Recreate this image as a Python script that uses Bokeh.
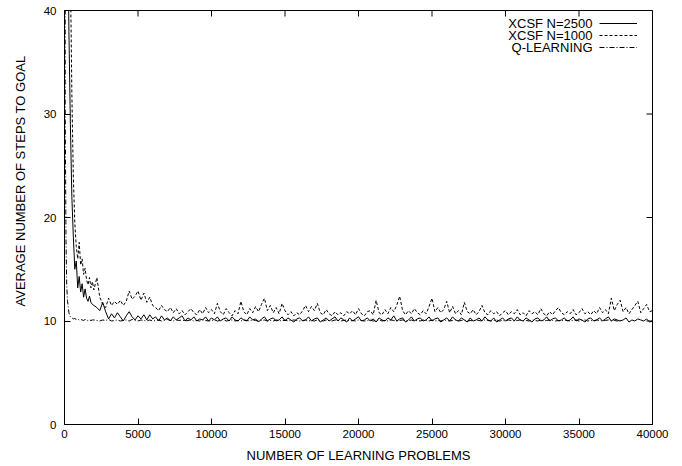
import math
from bokeh.plotting import figure
from bokeh.models import Range1d, FixedTicker, Label, Legend, LegendItem, Title
from bokeh.embed import file_html
from bokeh.resources import INLINE

# ---------------- data ----------------
X_MIN, X_MAX = 0, 40000
Y_MIN, Y_MAX = 0, 40
X_TICKS = [0, 5000, 10000, 15000, 20000, 25000, 30000, 35000, 40000]
Y_TICKS = [0, 10, 20, 30, 40]

X_XCSF = list(range(0, 2000, 100)) + list(range(2000, 40001, 200))
X_Q = [0, 50, 100, 150, 200] + list(range(300, 2000, 100)) + list(range(2000, 40001, 200))

Y_N2500 = [
    120, 80, 52, 38, 29, 22, 18.2, 15.0, 15.8, 13.2,
    14.3, 12.8, 13.6, 12.3, 13.1, 12.2, 11.9, 12.4, 11.8, 11.6,
    11.5, 11.3, 11.0, 11.8, 10.9, 10.2, 10.7, 10.3, 10.8, 10.4,
    10.0, 10.5, 10.9, 10.4, 10.1, 10.5, 10.2, 10.6, 10.1, 10.6,
    10.2, 10.4, 10.0, 10.5, 10.1, 10.3, 10.0, 10.4, 10.1, 10.3,
    10.5, 10.0, 10.3, 10.1, 10.4, 10.0, 10.2, 10.1, 10.4, 10.0,
    10.3, 10.1, 10.4, 10.0, 10.2, 10.3, 10.0, 10.4, 10.1, 10.0,
    10.3, 10.1, 10.0, 10.4, 10.1, 10.2, 9.9, 10.2, 10.4, 10.0,
    10.2, 10.3, 10.0, 10.1, 10.4, 10.0, 10.3, 10.1, 9.9, 10.2,
    10.3, 10.0, 10.1, 10.4, 10.0, 10.2, 10.3, 9.9, 10.1, 10.3,
    10.0, 10.2, 10.4, 10.0, 10.3, 10.1, 9.9, 10.3, 10.0, 10.2,
    10.4, 10.0, 10.1, 10.3, 10.0, 10.2, 9.9, 10.3, 10.1, 10.0,
    10.3, 10.1, 10.5, 10.0, 10.2, 10.3, 9.9, 10.1, 10.4, 10.0,
    10.2, 10.3, 10.0, 10.1, 10.4, 10.0, 10.2, 10.3, 9.9, 10.1,
    10.3, 10.0, 10.4, 10.1, 10.0, 10.3, 10.1, 9.9, 10.3, 10.0,
    10.1, 10.3, 10.0, 10.4, 10.1, 10.0, 10.3, 9.9, 10.1, 10.3,
    10.0, 10.2, 10.3, 10.0, 10.4, 10.1, 10.0, 10.3, 10.1, 9.9,
    10.2, 10.3, 10.0, 10.1, 10.4, 10.0, 10.2, 10.3, 10.0, 10.1,
    10.3, 10.0, 10.1, 10.4, 10.0, 10.2, 10.1, 9.9, 10.2, 10.3,
    10.0, 10.1, 10.3, 10.0, 10.2, 10.4, 10.0, 10.2, 10.1, 10.0,
    10.1, 10.3, 9.9, 10.1, 10.0, 10.2, 10.1, 10.0, 10.2, 9.9,
    10.0,
]

Y_N1000 = [
    200, 130, 85, 60, 44, 32, 24, 19.5, 17.2, 16.0,
    17.6, 15.4, 16.0, 14.5, 15.1, 14.0, 13.5, 14.2, 13.2, 13.8,
    13.0, 14.2, 12.3, 11.6, 11.3, 12.2, 11.5, 11.9, 11.6, 12.0,
    11.5, 11.9, 12.9, 12.1, 12.4, 12.9, 12.0, 12.7, 11.8, 12.3,
    11.5, 11.3, 11.0, 11.5, 11.1, 10.9, 11.3, 10.8, 11.2, 10.7,
    11.0, 10.6, 10.9, 11.2, 10.8, 10.6, 11.1, 10.7, 11.3, 10.8,
    11.1, 10.7, 11.7, 10.9, 10.6, 11.2, 10.8, 10.5, 11.0, 10.7,
    11.9, 10.9, 10.6, 11.2, 10.8, 11.4, 10.9, 11.6, 12.2, 11.0,
    11.5, 10.8, 11.3, 10.7, 11.7, 11.0, 10.6, 10.9, 10.5, 10.8,
    10.6, 11.0, 11.5, 10.9, 11.4, 11.0, 11.7, 10.8, 10.6, 11.1,
    10.7, 10.5, 10.9, 10.6, 10.8, 10.5, 10.9, 10.7, 11.0, 10.6,
    11.2, 10.7, 10.5, 10.9, 11.0, 10.6, 12.0, 10.8, 10.6, 11.1,
    10.7, 11.3, 10.9, 11.5, 12.4, 11.0, 10.6, 11.0, 10.7, 11.2,
    10.8, 10.6, 11.0, 10.7, 11.4, 12.2, 10.9, 11.3, 10.8, 11.1,
    11.9, 10.8, 11.4, 10.7, 11.0, 10.6, 11.8, 10.9, 10.7, 11.1,
    10.6, 10.9, 11.5, 10.8, 10.6, 11.0, 10.7, 10.9, 10.5, 10.8,
    11.0, 10.6, 10.9, 10.7, 11.1, 10.6, 10.8, 10.5, 11.0, 10.7,
    10.9, 10.6, 11.2, 10.7, 10.5, 10.9, 10.6, 11.0, 11.3, 10.8,
    10.6, 10.9, 10.7, 11.1, 10.6, 10.8, 11.2, 10.7, 10.9, 10.6,
    11.0, 10.7, 11.3, 10.8, 11.1, 10.7, 12.2, 11.0, 11.6, 12.0,
    10.9, 11.3, 10.7, 11.1, 11.5, 11.9, 10.8, 11.2, 11.6, 10.9,
    11.0,
]

Y_Q = [
    300, 30, 18, 13.5, 12.0,
    10.8, 10.4, 10.3, 10.2, 10.25, 10.15, 10.2, 10.1, 10.15, 10.1,
    10.05, 10.15, 10.1, 10.0, 10.1, 10.05, 10.1,
    10.1, 10.05, 10.0, 10.1, 10.05, 10.15, 10.0, 10.05, 10.1, 10.0,
    10.05, 10.1, 10.0, 10.15, 10.05, 10.0, 10.1, 10.05, 10.0, 10.1,
    10.0, 10.05, 10.1, 10.0, 10.05, 10.15, 10.05, 10.0, 10.1, 10.05,
    10.1, 10.0, 10.05, 10.1, 10.0, 10.05, 10.0, 10.1, 10.05, 10.0,
    10.05, 10.1, 10.0, 10.05, 10.15, 10.0, 10.05, 10.1, 10.0, 10.05,
    10.0, 10.1, 10.05, 10.0, 10.1, 10.05, 10.0, 10.05, 10.1, 10.0,
    10.05, 10.0, 10.1, 10.05, 10.0, 10.1, 10.0, 10.05, 10.1, 10.05,
    10.0, 10.05, 10.1, 10.0, 10.05, 10.0, 10.1, 10.05, 10.0, 10.1,
    10.05, 10.0, 10.1, 10.05, 10.0, 10.05, 10.1, 10.0, 10.05, 10.0,
    10.1, 10.05, 10.0, 10.05, 10.1, 10.0, 10.05, 10.1, 10.0, 10.05,
    10.0, 10.1, 10.05, 10.0, 10.05, 10.1, 10.05, 10.0, 10.1, 10.0,
    10.05, 10.0, 10.1, 10.05, 10.0, 10.1, 10.0, 10.05, 10.0, 10.1,
    10.05, 10.0, 10.05, 10.1, 10.0, 10.05, 10.1, 10.0, 10.05, 10.0,
    10.1, 10.05, 10.0, 10.1, 10.05, 10.0, 10.05, 10.1, 10.0, 10.05,
    10.0, 10.1, 10.05, 10.0, 10.05, 10.1, 10.0, 10.05, 10.0, 10.1,
    10.05, 10.0, 10.1, 10.0, 10.05, 10.1, 10.05, 10.0, 10.05, 10.0,
    10.1, 10.05, 10.0, 10.05, 10.1, 10.0, 10.05, 10.1, 10.0, 10.05,
    10.0, 10.1, 10.05, 10.0, 10.05, 10.1, 10.0, 10.05, 10.0, 10.05,
    10.05,
]

SERIES_LABELS = ["XCSF N=2500", "XCSF N=1000", "Q-LEARNING"]
X_LABEL = "NUMBER OF LEARNING PROBLEMS"
Y_LABEL = "AVERAGE NUMBER OF STEPS TO GOAL"

FONT = "Liberation Sans"

# ---------------- figure ----------------
p = figure(width=682, height=466, output_backend="svg", toolbar_location=None,
           x_range=Range1d(X_MIN, X_MAX), y_range=Range1d(Y_MIN, Y_MAX),
           min_border_left=64, min_border_right=30, min_border_top=10,
           min_border_bottom=42)
p.xgrid.visible = False
p.ygrid.visible = False
p.outline_line_color = "black"
p.outline_line_width = 1
p.outline_line_alpha = 1
p.background_fill_color = "white"
p.border_fill_color = "white"


def style_axis(ax, ticks, standoff):
    ax.ticker = FixedTicker(ticks=ticks)
    ax.major_tick_in = 6
    ax.major_tick_out = 0
    ax.minor_tick_in = 0
    ax.minor_tick_out = 0
    ax.axis_line_color = "black"
    ax.major_tick_line_color = "black"
    ax.major_label_text_font = FONT
    ax.major_label_text_color = "black"
    ax.major_label_text_font_size = "11.5px"
    ax.major_label_standoff = standoff


style_axis(p.xaxis[0], X_TICKS, 5)
style_axis(p.yaxis[0], Y_TICKS, 8)

p.xaxis[0].axis_label = X_LABEL
p.xaxis[0].axis_label_text_font = FONT
p.xaxis[0].axis_label_text_font_size = "13px"
p.xaxis[0].axis_label_text_font_style = "normal"
p.xaxis[0].axis_label_text_color = "black"
p.xaxis[0].axis_label_standoff = 7

# y-axis title, placed off-centre like the original
ytitle = Title(text=Y_LABEL, align="left", offset=118, vertical_align="middle",
               text_font=FONT, text_font_size="13px", text_font_style="normal",
               text_color="black", standoff=23)
p.add_layout(ytitle, "left")

# mirrored inward ticks on top and right borders
p.ray(x=X_TICKS, y=[Y_MAX] * len(X_TICKS), length=6, length_units="screen",
      angle=-math.pi / 2, line_color="black", line_width=1)
p.ray(x=[X_MAX] * len(Y_TICKS), y=Y_TICKS, length=6, length_units="screen",
      angle=math.pi, line_color="black", line_width=1)

r1 = p.line(X_XCSF, Y_N2500, line_color="black", line_width=1)
r2 = p.line(X_XCSF, Y_N1000, line_color="black", line_width=1, line_dash="3 2")
r3 = p.line(X_Q, Y_Q, line_color="black", line_width=1, line_dash="5 2 1 2")

legend = Legend(
    items=[LegendItem(label=" ", renderers=[r]) for r in (r1, r2, r3)],
    location=(535, 371), glyph_width=38, glyph_height=12, label_width=0,
    label_height=12, label_standoff=0, spacing=0, padding=0, margin=0,
    border_line_color=None, background_fill_alpha=0, label_text_font_size="1px",
)
p.add_layout(legend)

for i, txt in enumerate(SERIES_LABELS):
    p.add_layout(Label(x=528, y=400.7 - 12 * i, x_units="screen", y_units="screen",
                       text=txt, text_align="right", text_baseline="middle",
                       text_font=FONT, text_font_size="13px", text_color="black"))

open("out.html", "w").write(file_html(p, INLINE))
